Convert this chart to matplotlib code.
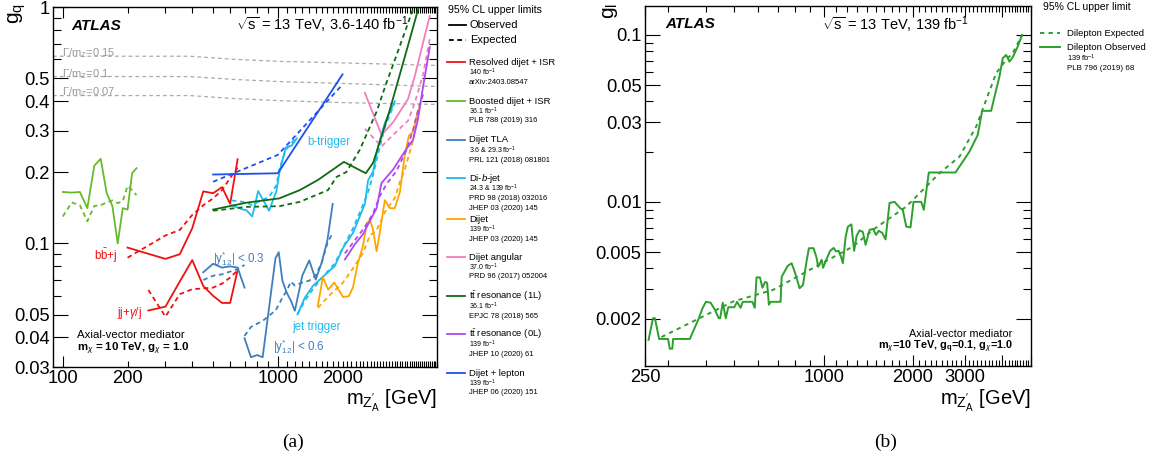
import numpy as np
import matplotlib
matplotlib.use("Agg")
import matplotlib.pyplot as plt
from matplotlib.lines import Line2D
from matplotlib.ticker import FixedLocator, FuncFormatter, NullFormatter, FixedFormatter

plt.rcParams['font.family'] = ['Liberation Sans', 'DejaVu Sans']
plt.rcParams['mathtext.fontset'] = 'custom'
plt.rcParams['mathtext.rm'] = 'Liberation Sans'
plt.rcParams['mathtext.it'] = 'Liberation Sans:italic'
plt.rcParams['mathtext.bf'] = 'Liberation Sans:bold'

# ---------------- data, panel (a) ----------------
width_m = [90, 390, 620, 1000, 2020, 5500]
width_015 = [0.619, 0.619, 0.601, 0.589, 0.580, 0.566]
width_010 = [0.508, 0.508, 0.494, 0.484, 0.475, 0.461]
width_007 = [0.422, 0.422, 0.410, 0.402, 0.394, 0.387]

boost_m = [100, 110, 120, 130, 140, 150, 160, 170, 180, 190, 200, 210, 220]
boost_obs = [0.165, 0.164, 0.165, 0.141, 0.213, 0.228, 0.163, 0.144, 0.100, 0.141, 0.139, 0.198, 0.208]
boost_exp = [0.130, 0.149, 0.145, 0.124, 0.144, 0.145, 0.149, 0.152, 0.148, 0.151, 0.175, 0.168, 0.160]

bbj_m = [200, 300, 350, 400, 450, 500, 550, 600, 650]
bbj_obs = [0.096, 0.086, 0.090, 0.116, 0.166, 0.163, 0.173, 0.147, 0.227]
bbj_exp = [0.087, 0.108, 0.114, 0.132, 0.145, 0.155, 0.168, 0.189, 0.209]

jjg_m = [250, 300, 350, 400, 450, 500, 550, 600, 650]
jjg_obs = [0.052, 0.054, 0.069, 0.085, 0.066, 0.060, 0.056, 0.056, 0.077]
jjg_exp = [0.0635, 0.049, 0.061, 0.064, 0.0645, 0.065, 0.0676, 0.0717, 0.0768]

tla03_m = [450, 500, 550, 600, 650, 700]
tla03_obs = [0.0755, 0.082, 0.079, 0.080, 0.079, 0.065]
tla03_exp = [0.070, 0.073, 0.074, 0.076, 0.078, 0.081]

tla06_m = [700, 750, 800, 850, 975, 1010, 1050, 1100, 1150, 1200, 1300, 1400, 1500, 1600, 1700, 1800]
tla06_obs = [0.0397, 0.0330, 0.0337, 0.0330, 0.0865, 0.0918, 0.0696, 0.0619, 0.0572, 0.0519,
             0.0731, 0.0847, 0.0703, 0.0830, 0.103, 0.147]
tla06_exp = [0.0406, 0.0443, 0.0457, 0.047, 0.052, 0.055, 0.059, 0.063, 0.0689, 0.0663,
             0.0683, 0.0696, 0.0731, 0.083, 0.100, 0.111]

btrig_m = [610, 680, 715, 760, 810, 910, 985, 1020, 1090, 1160, 1225]
btrig_obs = [0.145, 0.1395, 0.138, 0.130, 0.1665, 0.1375, 0.1665, 0.2025, 0.255, 0.259, 0.278]
btrig_exp = [0.152, 0.150, 0.149, 0.145, 0.150, 0.157, 0.1765, 0.2085, 0.249, 0.266, 0.285]

jtrig_m = [1235, 1335, 1460, 1625, 1840, 2010, 2240, 2540, 2630, 2775, 2930, 3150, 3500]
jtrig_obs = [0.0501, 0.0589, 0.0663, 0.0724, 0.0802, 0.0957, 0.111, 0.147, 0.185, 0.2015, 0.259, 0.324, 0.399]
jtrig_exp = [0.0501, 0.0572, 0.0643, 0.0724, 0.0822, 0.0961, 0.116, 0.152, 0.165, 0.195, 0.240, 0.312, 0.394]

dijet_m = [1535, 1620, 1715, 1830, 2010, 2140, 2235, 2355, 2485, 2595, 2680, 2765, 2880,
           2980, 3145, 3320, 3500, 3695, 3895, 4070, 4260, 4430, 4600]
dijet_obs = [0.0545, 0.0720, 0.0637, 0.0683, 0.0593, 0.0598, 0.065, 0.0822, 0.0971, 0.1217,
             0.1253, 0.1158, 0.0925, 0.1113, 0.1524, 0.1409, 0.1409, 0.1648, 0.2368, 0.2853,
             0.2977, 0.347, 0.3866]
dijet_exp_m = [1535, 1715, 2010, 2235, 2485, 2680, 2880, 3145, 3500, 3695, 3895, 4260, 4430, 4600]
dijet_exp = [0.0534, 0.0595, 0.0683, 0.0783, 0.0907, 0.108, 0.1136, 0.1355, 0.1554, 0.1818,
             0.2045, 0.2744, 0.340, 0.383]

ang_m = [2540, 3035, 3440, 4035, 4335, 4740, 5090]
ang_obs = [0.4335, 0.288, 0.3256, 0.4088, 0.510, 0.708, 0.916]
ang_exp = [0.3055, 0.257, 0.288, 0.3305, 0.394, 0.519, 0.731]

tt1_m = [500, 715, 1015, 1265, 1535, 2030, 2565, 2775, 2980, 3320, 3695, 4110, 4495]
tt1_obs = [0.139, 0.1487, 0.155, 0.168, 0.1854, 0.2212, 0.198, 0.2192, 0.2686, 0.368, 0.519, 0.731, 0.98]
tt1_exp_m = [500, 715, 1020, 1265, 1710, 1875, 2085, 2405, 2620, 2880, 3205, 3565, 3970, 4340]
tt1_exp = [0.1375, 0.1427, 0.1437, 0.1499, 0.168, 0.191, 0.2005, 0.2487, 0.2968, 0.3608,
           0.4796, 0.6248, 0.822, 1.03]

tt0_m = [2050, 2280, 2495, 2630, 2880, 3035, 3440, 3895, 4260, 4480, 4740, 5090]
tt0_obs = [0.0855, 0.099, 0.1097, 0.1205, 0.1409, 0.180, 0.2055, 0.245, 0.2744, 0.3337, 0.461, 0.676]
tt0_exp_m = [2050, 2280, 2540, 2775, 2980, 3205, 3565, 3970, 4260, 4495, 4740]
tt0_exp = [0.0907, 0.103, 0.1173, 0.1341, 0.1585, 0.1783, 0.2025, 0.2487, 0.3027, 0.368, 0.4264]

dilep_m = [500, 1000, 2000]
dilep_obs = [0.1956, 0.198, 0.519]
dilep_exp = [0.1823, 0.2368, 0.470]

# legend of panel (a)
leg_names = ["Resolved dijet + ISR", "Boosted dijet + ISR", "Dijet TLA", "Di-$b$-jet", "Dijet",
             "Dijet angular", r"t$\bar{\mathrm{t}}$ resonance (1L)", r"t$\bar{\mathrm{t}}$ resonance (0L)",
             "Dijet + lepton"]
leg_lumi = ["140 fb$^{-1}$", "36.1 fb$^{-1}$", "3.6 & 29.3 fb$^{-1}$", "24.3 & 139 fb$^{-1}$",
            "139 fb$^{-1}$", "37.0 fb$^{-1}$", "36.1 fb$^{-1}$", "139 fb$^{-1}$", "139 fb$^{-1}$"]
leg_refs = [["arXiv:2403.08547"], ["PLB 788 (2019) 316"], ["PRL 121 (2018) 081801"],
            ["PRD 98 (2018) 032016", "JHEP 03 (2020) 145"], ["JHEP 03 (2020) 145"],
            ["PRD 96 (2017) 052004"], ["EPJC 78 (2018) 565"], ["JHEP 10 (2020) 61"],
            ["JHEP 06 (2020) 151"]]

c_res = '#ee1111'
c_boost = '#66bb2a'
c_tla = '#3f7ebf'
c_bjet = '#1cbcf0'
c_dijet = '#ffa500'
c_ang = '#f07fbf'
c_tt1 = '#0f6b12'
c_tt0 = '#b048f0'
c_lep = '#1f4fee'
leg_colors = [c_res, c_boost, c_tla, c_bjet, c_dijet, c_ang, c_tt1, c_tt0, c_lep]

# ---------------- data, panel (b) ----------------
dl_obs_m = [257, 266, 270, 279, 299, 303, 309, 311, 354, 378, 390, 401, 416, 430, 443, 448,
            457, 468, 477, 500, 511, 525, 534, 575, 586, 594, 610, 622, 635, 645, 654, 663,
            716, 722, 757, 780, 799, 830, 852, 873, 892, 925, 947, 958, 985, 996, 1021, 1052,
            1081, 1102, 1123, 1145, 1161, 1186, 1207, 1240, 1267, 1292, 1322, 1356, 1385, 1429,
            1468, 1502, 1535, 1576, 1617, 1668, 1734, 1812, 1849, 1899, 1963, 2009, 2133, 2176,
            2262, 2783, 3101, 3308, 3422, 3670, 3815, 3914, 4015, 4123, 4229, 4339, 4510, 4667]
dl_obs_g = [0.00149, 0.00201, 0.00201, 0.00151, 0.00151, 0.00132, 0.00132, 0.00151, 0.00151,
            0.00197, 0.00229, 0.00252, 0.00249, 0.00226, 0.00201, 0.00201, 0.00249, 0.00201,
            0.00234, 0.00234, 0.00252, 0.00232, 0.00252, 0.00252, 0.00232, 0.00353, 0.00353,
            0.00306, 0.00332, 0.00327, 0.00242, 0.00252, 0.00252, 0.00356, 0.00414, 0.00429,
            0.00381, 0.00304, 0.00318, 0.00425, 0.00528, 0.00528, 0.00462, 0.00408, 0.00450,
            0.00403, 0.00450, 0.00509, 0.00530, 0.00505, 0.00509, 0.00469, 0.00429, 0.00617,
            0.00711, 0.00733, 0.00509, 0.00626, 0.00675, 0.00661, 0.00553, 0.00680, 0.00689,
            0.00634, 0.00671, 0.00652, 0.00596, 0.00986, 0.0100, 0.00917, 0.00896, 0.00711,
            0.00704, 0.0100, 0.0100, 0.00896, 0.0150, 0.0150, 0.0200, 0.0252, 0.0351, 0.0351,
            0.0469, 0.0563, 0.0725, 0.0759, 0.0692, 0.0735, 0.0851, 0.100]
dl_exp_m = [284, 373, 495, 675, 920, 1255, 1466, 1899, 2458, 2871, 3267, 3530, 3815, 4123, 4339, 4667]
dl_exp_g = [0.00155, 0.00197, 0.00253, 0.00297, 0.00401, 0.0054, 0.0068, 0.00937, 0.01485,
            0.01867, 0.02824, 0.0408, 0.0590, 0.0709, 0.0777, 0.100]
c_dl = '#2ca02c'

W, H = 1158, 461
fig = plt.figure(figsize=(W / 100, H / 100), dpi=100)
fig.patch.set_facecolor('white')


def fx(px):
    return px / W


def fy(py):
    return 1 - py / H


def ftext(px, py, s, **kw):
    kw.setdefault('va', 'center')
    return fig.text(fx(px), fy(py), s, **kw)


DASH = (0, (2.6, 2.0))
LW = 1.3

# ---------------- panel (a) ----------------
ax = fig.add_axes([fx(53), fy(367), fx(437) - fx(53), fy(7) - fy(367)])
ax.set_xscale('log')
ax.set_yscale('log')
ax.set_xlim(90, 5500)
ax.set_ylim(0.03, 1.0)

for wg in (width_015, width_010, width_007):
    ax.plot(width_m, wg, color='#aaaaaa', lw=0.9, ls=(0, (3, 2.5)))

curves = [
    (boost_m, boost_obs, boost_m, boost_exp, c_boost),
    (bbj_m, bbj_obs, bbj_m, bbj_exp, c_res),
    (jjg_m, jjg_obs, jjg_m, jjg_exp, c_res),
    (tla03_m, tla03_obs, tla03_m, tla03_exp, c_tla),
    (tla06_m, tla06_obs, tla06_m, tla06_exp, c_tla),
    (btrig_m, btrig_obs, btrig_m, btrig_exp, c_bjet),
    (jtrig_m, jtrig_obs, jtrig_m, jtrig_exp, c_bjet),
    (dijet_m, dijet_obs, dijet_exp_m, dijet_exp, c_dijet),
    (ang_m, ang_obs, ang_m, ang_exp, c_ang),
    (tt1_m, tt1_obs, tt1_exp_m, tt1_exp, c_tt1),
    (tt0_m, tt0_obs, tt0_exp_m, tt0_exp, c_tt0),
    (dilep_m, dilep_obs, dilep_m, dilep_exp, c_lep),
]
for mo, go, me, ge, c in curves:
    ax.plot(me, ge, color=c, lw=LW, ls=DASH)
    ax.plot(mo, go, color=c, lw=LW)

ax.xaxis.set_major_locator(FixedLocator([100, 1000]))
ax.xaxis.set_minor_locator(FixedLocator([m for m in range(100, 5600, 100) if m not in (100, 1000)]))
ax.xaxis.set_major_formatter(FuncFormatter(lambda v, p: "%d" % v))
ax.xaxis.set_minor_formatter(FuncFormatter(lambda v, p: "%d" % v if int(round(v)) in (200, 2000) else ""))
ax.yaxis.set_major_locator(FixedLocator([0.03, 0.04, 0.05, 0.1, 0.2, 0.3, 0.4, 0.5, 1.0]))
ax.yaxis.set_major_formatter(FixedFormatter(["0.03", "0.04", "0.05", "0.1", "0.2", "0.3", "0.4", "0.5", "1"]))
ax.yaxis.set_minor_locator(FixedLocator([0.06, 0.07, 0.08, 0.09, 0.6, 0.7, 0.8, 0.9]))
ax.yaxis.set_minor_formatter(NullFormatter())

# ---------------- panel (b) ----------------
bx = fig.add_axes([fx(645), fy(366), fx(1031) - fx(645), fy(6) - fy(366)])
bx.set_xscale('log')
bx.set_yscale('log')
bx.set_xlim(250, 5000)
bx.set_ylim(0.00104, 0.149)
bx.plot(dl_exp_m, dl_exp_g, color=c_dl, lw=1.4, ls=(0, (2.2, 2.2)))
bx.plot(dl_obs_m, dl_obs_g, color=c_dl, lw=1.4)

bx.xaxis.set_major_locator(FixedLocator([250, 1000, 2000, 3000, 4000, 5000]))
bx.xaxis.set_major_formatter(FixedFormatter(["250", "1000", "2000", "3000", "", ""]))
bx.xaxis.set_minor_locator(FixedLocator([m for m in range(300, 5000, 100) if m % 1000 != 0]))
bx.xaxis.set_minor_formatter(NullFormatter())
bx.yaxis.set_major_locator(FixedLocator([0.002, 0.005, 0.01, 0.03, 0.05, 0.1]))
bx.yaxis.set_major_formatter(FixedFormatter(["0.002", "0.005", "0.01", "0.03", "0.05", "0.1"]))
bx.yaxis.set_minor_locator(FixedLocator([0.003, 0.004, 0.006, 0.007, 0.008, 0.009, 0.02,
                                         0.04, 0.06, 0.07, 0.08, 0.09]))
bx.yaxis.set_minor_formatter(NullFormatter())

for a in (ax, bx):
    a.tick_params(which='both', direction='in', top=True, right=True, width=0.8,
                  labelsize=13.2, pad=2.5)
    a.tick_params(axis='y', which='major', length=11)
    a.tick_params(axis='y', which='minor', length=5.5)
    a.tick_params(axis='x', which='major', length=8)
    a.tick_params(axis='x', which='minor', length=4.5)
    for sp in a.spines.values():
        sp.set_linewidth(1.0)

# ---------------- texts panel (a) ----------------
ftext(17, 3, r"$\mathrm{g_q}$", fontsize=15, rotation=90, ha='center', va='top')
ftext(437, 401, r"$\mathrm{m}_{\mathrm{Z}^{\prime}_{\mathrm{A}}}$ [GeV]", fontsize=14.5, ha='right')
ftext(71, 26, "ATLAS", fontsize=11, fontweight='bold', fontstyle='italic')
ftext(236, 25, r"$\sqrt{\mathrm{s}}$ = 13 TeV, 3.6-140 fb$^{-1}$", fontsize=10.5)
for py, lab in zip((53, 74, 92), ("0.15", "0.1", "0.07")):
    ftext(62, py, r"$\Gamma/\mathrm{m_Z}$=" + lab, fontsize=8, color='#999999')
ftext(307, 142, "b-trigger", fontsize=8.3, color=c_bjet)
ftext(292.7, 326.7, "jet trigger", fontsize=8.3, color=c_bjet)
ftext(213, 259, r"$|\mathrm{y}^{*}_{12}|$ < 0.3", fontsize=8.3, color=c_tla)
ftext(273, 347, r"$|\mathrm{y}^{*}_{12}|$ < 0.6", fontsize=8.3, color=c_tla)
ftext(94, 256, r"b$\bar{\mathrm{b}}$+j", fontsize=8.3, color=c_res)
ftext(117, 312.7, r"jj+$\gamma$/j", fontsize=8.3, color=c_res)
ftext(76.7, 335, "Axial-vector mediator", fontsize=8.2)
ftext(76.7, 348.5, r"m$_\chi$ = 10 TeV, g$_\chi$ = 1.0", fontsize=8.2, fontweight='bold')
fig.text(fx(293), fy(442), "(a)", fontsize=14, family=['Liberation Serif', 'DejaVu Serif'],
         ha='center', va='center')

# legend panel (a)
ftext(448, 10, "95% CL upper limits", fontsize=7.6)
fig.add_artist(Line2D([fx(449), fx(466)], [fy(25), fy(25)], color='k', lw=1.3))
ftext(470, 25, "Observed", fontsize=8)
fig.add_artist(Line2D([fx(449), fx(466)], [fy(40), fy(40)], color='k', lw=1.3, ls=DASH))
ftext(470, 40, "Expected", fontsize=8)
leg_y = [62, 101, 140, 178, 219, 257, 296, 334, 373]
for y0, name, lumi, refs, c in zip(leg_y, leg_names, leg_lumi, leg_refs, leg_colors):
    fig.add_artist(Line2D([fx(447), fx(465)], [fy(y0), fy(y0)], color=c, lw=1.3))
    ftext(469, y0, name, fontsize=6.8)
    ftext(469, y0 + 10.5, lumi, fontsize=5.0)
    for k, r in enumerate(refs):
        ftext(469, y0 + 20 + 10.5 * k, r, fontsize=5.5)

# ---------------- texts panel (b) ----------------
ftext(611, 3, r"$\mathrm{g_l}$", fontsize=15, rotation=90, ha='center', va='top')
ftext(1031, 401, r"$\mathrm{m}_{\mathrm{Z}^{\prime}_{\mathrm{A}}}$ [GeV]", fontsize=14.5, ha='right')
ftext(665, 24, "ATLAS", fontsize=11, fontweight='bold', fontstyle='italic')
ftext(822, 25, r"$\sqrt{\mathrm{s}}$ = 13 TeV, 139 fb$^{-1}$", fontsize=10.5)
ftext(1012, 334, "Axial-vector mediator", fontsize=7.8, ha='right')
ftext(1013, 347, r"m$_\chi$=10 TeV, g$_\mathbf{q}$=0.1, g$_\chi$=1.0", fontsize=7.8,
      fontweight='bold', ha='right')
fig.text(fx(886), fy(442), "(b)", fontsize=14, family=['Liberation Serif', 'DejaVu Serif'],
         ha='center', va='center')

ftext(1043, 7, "95% CL upper limit", fontsize=7.5)
fig.add_artist(Line2D([fx(1040), fx(1060)], [fy(33), fy(33)], color=c_dl, lw=1.4, ls=(0, (2.2, 2.2))))
ftext(1067, 33, "Dilepton Expected", fontsize=6.8)
fig.add_artist(Line2D([fx(1040), fx(1060)], [fy(47), fy(47)], color=c_dl, lw=1.4))
ftext(1067, 47, "Dilepton Observed", fontsize=6.8)
ftext(1067, 58.5, "139 fb$^{-1}$", fontsize=5.4)
ftext(1067, 68.5, "PLB 796 (2019) 68", fontsize=5.8)

fig.savefig("out.png", dpi=100, facecolor='white')
